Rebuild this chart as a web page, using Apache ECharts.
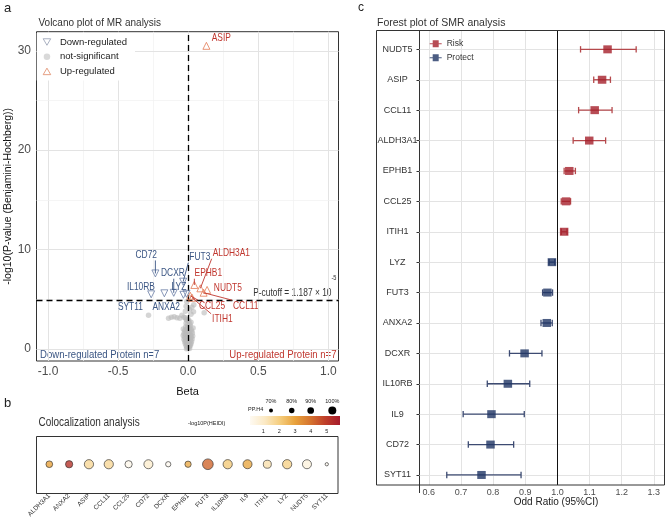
<!DOCTYPE html>
<html><head><meta charset="utf-8">
<script src="https://cdn.jsdelivr.net/npm/echarts@6/dist/echarts.min.js"></script>
<style>html,body{margin:0;padding:0;background:#fff}#c{width:666px;height:520px}</style>
</head><body><div id="c"></div>
<script>
// ---------- Panel a: volcano data ----------
const grayBeta = [-0.283,-0.14,-0.12,-0.1,-0.08,-0.06,-0.045,-0.03,0.026,0.04,-0.01,0.038,0.114,-0.015,0.01,-0.02,0.02,
  -0.01,0.005,-0.015,0.012,-0.005,0.015,-0.018,0.008,-0.008,0.02,-0.022,0.0,0.025,-0.025,0.01,-0.012,0.03,-0.03,0.005,-0.02,0.018,-0.035,0.032,-0.006,0.022,-0.026,0.012,-0.015,0.028,-0.03,0.0,0.016,-0.018,0.024,-0.024,0.006,-0.01,0.02,-0.02,0.012,-0.006,0.016,-0.014,0.008,-0.008,0.004,-0.004,0.01,-0.012,0.0,0.0,0.0,-0.015,0.02,0.003,-0.02,-0.035,0.035];
const grayLogP = [3.4,3.1,3.2,3.25,3.15,3.1,3.4,3.2,4.2,4.45,4.75,3.75,3.65,4.3,4.0,3.8,3.5,
  2.9,2.8,2.6,2.5,2.4,2.3,2.2,2.1,2.0,1.95,1.9,1.85,1.8,1.75,1.7,1.65,1.6,1.55,1.5,1.45,1.4,1.35,1.3,1.25,1.2,1.15,1.1,1.05,1.0,0.95,0.9,0.85,0.8,0.75,0.7,0.65,0.6,0.55,0.5,0.45,0.4,0.35,0.3,0.25,0.2,0.15,0.1,0.05,0.02,0.5,1.3,2.2,3.0,2.7,2.95,3.15,2.0,2.1];
const downGenes = ['SYT11','IL10RB','CD72','DCXR','LYZ','ANXA2','FUT3'];
const downBeta  = [-0.264,-0.17,-0.234,-0.103,-0.012,-0.034,-0.036];
const downLogP  = [5.5,5.6,7.6,5.65,5.55,5.45,6.77];
const upGenes = ['ASIP','ALDH3A1','CCL11','NUDT5','EPHB1','CCL25','ITIH1'];
const upBeta  = [0.13,0.087,0.11,0.135,0.044,0.015,0.028];
const upLogP  = [30.5,6.1,5.66,5.94,6.44,5.35,5.15];
const pCutoff = 1.187e-5;
const volXTicks = [-1,-0.5,0,0.5,1];
const volYTicks = [0,10,20,30];
// label anchor positions (data units)
const labelAt = {SYT11:[-0.412,4.26], IL10RB:[-0.337,6.27], CD72:[-0.299,9.46], DCXR:[-0.109,7.62], LYZ:[-0.066,6.24],
  ANXA2:[-0.157,4.26], FUT3:[0.083,9.23], ALDH3A1:[0.308,9.63], EPHB1:[0.144,7.62], NUDT5:[0.283,6.17],
  CCL11:[0.411,4.36], CCL25:[0.170,4.36], ITIH1:[0.244,2.99], ASIP:[0.236,31.26]};
const noSegment = ['SYT11','NUDT5','ASIP','IL10RB','ANXA2','LYZ'];

// ---------- Panel b: colocalization ----------
const colocGenes = ['ALDH3A1','ANXA2','ASIP','CCL11','CCL25','CD72','DCXR','EPHB1','FUT3','IL10RB','IL9','ITIH1','LYZ','NUDT5','SYT11'];
const colocPP    = [0.755,0.78,0.87,0.87,0.78,0.86,0.69,0.736,0.936,0.87,0.86,0.814,0.87,0.86,0.60];
const colocHeidi = [3.0,5.2,1.7,1.7,0.3,0.9,0.2,2.8,4.2,2.1,2.9,1.4,1.9,0.6,0.2];
const heidiTicks = [1,2,3,4,5];
const ppLegend = [0.7,0.8,0.9,1.0];

// ---------- Panel c: forest ----------
const forestGenes = ['NUDT5','ASIP','CCL11','ALDH3A1','EPHB1','CCL25','ITIH1','LYZ','FUT3','ANXA2','DCXR','IL10RB','IL9','CD72','SYT11'];
const forestOR = [1.156,1.139,1.116,1.099,1.037,1.027,1.021,0.983,0.969,0.967,0.898,0.846,0.795,0.792,0.764];
const forestLo = [1.072,1.113,1.066,1.049,1.021,1.012,1.012,0.974,0.954,0.949,0.851,0.782,0.707,0.723,0.656];
const forestHi = [1.245,1.165,1.170,1.150,1.056,1.041,1.030,0.992,0.985,0.984,0.952,0.914,0.897,0.864,0.887];
const orTicks = [0.6,0.7,0.8,0.9,1.0,1.1,1.2,1.3];

// ---------- styles ----------
const FONT = '"Liberation Sans", Arial, sans-serif';
const downText = '#3a5583', upText = '#c0372f';
const downMark = '#6c7ea6', upMark = '#e47a55';
const riskCol = '#a51f2b', riskLine = '#b5494c', protCol = '#1f3564', protLine = '#3d4b72';
const heidiColors = ['#fefaf2','#fbe9c4','#f5cd7d','#e8a23c','#d6752f','#bf3f2a','#a51b2b'];
const heidiMin = 0.16, heidiMax = 5.84;
const SQX = 0.8; // horizontal squeeze of annotation text in the reference

const measureCtx = document.createElement('canvas').getContext('2d');
function textW(t, font){ measureCtx.font = font; return measureCtx.measureText(t).width; }

const volLabels = [];
downGenes.forEach((g,i)=>volLabels.push([downBeta[i], downLogP[i], labelAt[g][0], labelAt[g][1], g, 0]));
upGenes.forEach((g,i)=>volLabels.push([upBeta[i], upLogP[i], labelAt[g][0], labelAt[g][1], g, 1]));

const nF = forestGenes.length;
const fIdx = forestGenes.map((g,i)=>nF-1-i);
const riskData = [], protData = [], riskBars = [], protBars = [];
forestGenes.forEach((g,i)=>{
  if (forestOR[i] > 1) { riskData.push([forestOR[i], fIdx[i]]); riskBars.push([forestLo[i], forestHi[i], fIdx[i]]); }
  else { protData.push([forestOR[i], fIdx[i]]); protBars.push([forestLo[i], forestHi[i], fIdx[i]]); }
});

function gl(axis, v, major){ const o = {lineStyle:{color: major ? '#e3e3e3' : '#f1f1f1', width: major ? 1 : 0.7, type:'solid'}}; o[axis]=v; return o; }
const volGrid = [];
volXTicks.forEach(v=>volGrid.push(gl('xAxis', v, true)));
[-0.75,-0.25,0.25,0.75].forEach(v=>volGrid.push(gl('xAxis', v, false)));
volYTicks.forEach(v=>volGrid.push(gl('yAxis', v, true)));
[5,15,25].forEach(v=>volGrid.push(gl('yAxis', v, false)));
const forestGrid = [];
orTicks.forEach(v=>forestGrid.push(gl('xAxis', v, true)));
fIdx.forEach(v=>forestGrid.push(gl('yAxis', v, true)));

function errorBars(color){
  return function(params, api){
    const lo = api.value(0), hi = api.value(1), y = api.value(2);
    const a = api.coord([lo, y]), b = api.coord([hi, y]);
    const st = {stroke: color, lineWidth: 1.3};
    return {type:'group', children:[
      {type:'line', shape:{x1:a[0], y1:a[1], x2:b[0], y2:b[1]}, style: st},
      {type:'line', shape:{x1:a[0], y1:a[1]-3.2, x2:a[0], y2:a[1]+3.2}, style: st},
      {type:'line', shape:{x1:b[0], y1:b[1]-3.2, x2:b[0], y2:b[1]+3.2}, style: st}
    ]};
  };
}

const legendIconFP = 'path://M0,3.4 H14 V4.6 H0 Z M3.5,0 H10.5 V8 H3.5 Z';

const graphics = [];
function txt(x, y, text, size, opt, sx){ return {type:'text', x, y, scaleX: sx || 1, style:Object.assign({text, fill:'#222', font: size+'px '+FONT, align:'left', verticalAlign:'middle'}, opt||{})}; }
graphics.push(txt(4, 8, 'a', 13));
graphics.push(txt(38.5, 23, 'Volcano plot of MR analysis', 10.5, {fill:'#333'}, 0.95));
graphics.push(txt(4, 403, 'b', 13));
graphics.push(txt(38.5, 423, 'Colocalization analysis', 12.5, {fill:'#333'}, SQX));
graphics.push(txt(358, 8, 'c', 12));
graphics.push(txt(377, 23, 'Forest plot of SMR analysis', 10.5, {fill:'#333'}));
graphics.push(txt(556, 502, 'Odd Ratio (95%CI)', 10, {align:'center', fill:'#222'}));
const expo = pCutoff.toExponential(3).split('e');
graphics.push(txt(331.5, 293, 'P-cutoff = ' + expo[0] + ' \u00d7 10', 10.5, {align:'right', fill:'#333'}, SQX));
graphics.push(txt(331.5, 277.7, expo[1], 7, {fill:'#333'}, SQX));
graphics.push(txt(40, 354.5, 'Down-regulated Protein n=7', 11, {fill:downText}, 0.87));
graphics.push(txt(336.5, 354.5, 'Up-regulated Protein n=7', 11, {fill:upText, align:'right'}, 0.87));
graphics.push({type:'rect', shape:{x:36.5, y:436.5, width:301.5, height:57}, style:{fill:'none', stroke:'#333', lineWidth:1}, z:10});
graphics.push({type:'rect', shape:{x:376.5, y:30.5, width:288, height:454.5}, style:{fill:'none', stroke:'#333', lineWidth:1}, z:10});
graphics.push({type:'line', shape:{x1:419.5, y1:485, x2:419.5, y2:493}, style:{stroke:'#333', lineWidth:1}});
graphics.push(txt(248, 409, 'PP.H4', 5.5, {fill:'#222'}));
const ppX = [271, 291.7, 310.7, 332.3], ppD = [4, 5.5, 6.7, 8];
ppLegend.forEach((p,i)=>{
  graphics.push({type:'circle', shape:{cx:ppX[i], cy:410.5, r:ppD[i]/2}, style:{fill:'#000'}});
  graphics.push(txt(ppX[i], 401, Math.round(p*100)+'%', 5.5, {align:'center', fill:'#222'}));
});
const barX0 = 250, barX1 = 340;
graphics.push(txt(206.7, 423, '-log10P(HEIDI)', 5.5, {align:'center', fill:'#222'}));
graphics.push({type:'rect', shape:{x:barX0, y:416, width:barX1-barX0, height:9},
  style:{fill:{type:'linear', x:0, y:0, x2:1, y2:0, colorStops: heidiColors.map((c,i)=>({offset:i/(heidiColors.length-1), color:c}))}}});
heidiTicks.forEach(v=>{
  const x = barX0 + (v-heidiMin)/(heidiMax-heidiMin)*(barX1-barX0);
  graphics.push(txt(x, 431.7, String(v), 5.5, {align:'center', fill:'#222'}));
});

const axLabel = {fontFamily: FONT, color:'#4d4d4d'};

const option = {
  animation:false,
  backgroundColor:'#fff',
  grid:[
    {left:36.5, top:31.7, width:302, height:329.3, show:true, borderColor:'#333', borderWidth:1, backgroundColor:'transparent'},
    {left:39.4, top:436.5, width:297.3, height:57},
    {left:419.5, top:30.5, width:245, height:454.5}
  ],
  xAxis:[
    {gridIndex:0, type:'value', min:-1.0823, max:1.0726, splitLine:{show:false}, axisLine:{show:false},
     axisTick:{show:true, length:3.5, lineStyle:{color:'#333'}, customValues: volXTicks},
     axisLabel:Object.assign({fontSize:12, margin:5, customValues: volXTicks, formatter:v=>v.toFixed(1)}, axLabel),
     name:'Beta', nameLocation:'middle', nameGap:25, nameTextStyle:{fontSize:11, fontFamily:FONT, color:'#111'}},
    {gridIndex:1, type:'category', data:colocGenes, boundaryGap:true, axisLine:{show:false}, axisTick:{show:false},
     axisLabel:{rotate:45, fontSize:6.5, margin:3, interval:0, fontFamily:FONT, color:'#333'}},
    {gridIndex:2, type:'value', min:0.5712, max:1.3331, splitLine:{show:false}, axisLine:{show:false},
     axisTick:{show:true, length:3, lineStyle:{color:'#333'}, customValues: orTicks},
     axisLabel:Object.assign({fontSize:9, margin:3, customValues: orTicks, formatter:v=>v.toFixed(1)}, axLabel)}
  ],
  yAxis:[
    {gridIndex:0, type:'value', min:-1.21, max:31.92, splitLine:{show:false}, axisLine:{show:false},
     axisTick:{show:true, length:3.5, lineStyle:{color:'#333'}, customValues: volYTicks},
     axisLabel:Object.assign({fontSize:12, margin:5.5, customValues: volYTicks}, axLabel),
     name:'-log10(P-value (Benjamini-Hochberg))', nameLocation:'middle', nameGap:15, nameTextStyle:{fontSize:10.5, fontFamily:FONT, color:'#111'}},
    {gridIndex:1, type:'value', min:0, max:1, show:false},
    {gridIndex:2, type:'value', min:-0.33, max:14.62, splitLine:{show:false}, axisLine:{show:true, lineStyle:{color:'#333', width:1}},
     axisTick:{show:true, length:3, lineStyle:{color:'#333'}, customValues: fIdx},
     axisLabel:{fontSize:9, margin:22, align:'center', fontFamily:FONT, color:'#333', customValues: fIdx, formatter:v=>forestGenes[nF-1-Math.round(v)]}}
  ],
  visualMap:[{type:'continuous', show:false, seriesIndex:5, dimension:2, min:heidiMin, max:heidiMax, inRange:{color:heidiColors}}],
  legend:[
    {left:36.7, top:33, orient:'vertical', itemWidth:16, itemHeight:6.5, itemGap:4.7, padding:[4,8,4,6], backgroundColor:'#fff',
     textStyle:{fontSize:9.5, fontFamily:FONT, color:'#222'}, selectedMode:false,
     data:[
       {name:'Down-regulated', icon:'path://M0,0 L10,0 L5,8.66 Z', itemStyle:{color:'transparent', borderColor:'#949cb2', borderWidth:1}},
       {name:'not-significant', icon:'circle', itemStyle:{color:'#cfcfcf', borderWidth:0}},
       {name:'Up-regulated', icon:'path://M5,0 L10,8.66 L0,8.66 Z', itemStyle:{color:'transparent', borderColor:'#e08a66', borderWidth:1}}
     ]},
    {left:429.7, top:39.3, orient:'vertical', itemWidth:12, itemHeight:7, itemGap:5, padding:0, selectedMode:false,
     textStyle:{fontSize:8.5, fontFamily:FONT, color:'#333'},
     data:[{name:'Risk', icon:legendIconFP}, {name:'Protect', icon:legendIconFP}]}
  ],
  graphic: graphics,
  series:[
    {name:'not-significant', type:'scatter', xAxisIndex:0, yAxisIndex:0, symbol:'circle', symbolSize:5.5, z:2,
     itemStyle:{color:'rgba(185,185,185,0.75)'}, data: grayBeta.map((b,i)=>[b, grayLogP[i]]),
     markLine:{silent:true, symbol:['none','none'], label:{show:false}, z:1, data: volGrid}},
    {name:'Down-regulated', type:'scatter', xAxisIndex:0, yAxisIndex:0, symbol:'triangle', symbolRotate:180, symbolSize:7, z:3,
     itemStyle:{color:'rgba(0,0,0,0)', borderColor:downMark, borderWidth:1}, data: downBeta.map((b,i)=>[b, downLogP[i]])},
    {name:'Up-regulated', type:'scatter', xAxisIndex:0, yAxisIndex:0, symbol:'triangle', symbolSize:7, z:3,
     itemStyle:{color:'rgba(0,0,0,0)', borderColor:upMark, borderWidth:1}, data: upBeta.map((b,i)=>[b, upLogP[i]]),
     markLine:{silent:true, symbol:['none','none'], label:{show:false}, z:3,
       lineStyle:{color:'#000', type:[6,4], width:1.3},
       data:[{xAxis:0}, {yAxis:-Math.log10(pCutoff)}]}},
    {type:'custom', xAxisIndex:0, yAxisIndex:0, z:4, silent:true,
     data: volLabels.map(d=>[d[0], d[1]]),
     renderItem:function(params, api){
       const d = volLabels[params.dataIndex];
       const p = api.coord([d[0], d[1]]);
       const l = api.coord([d[2], d[3]]);
       const font = '10.5px ' + FONT;
       const w = textW(d[4], font)*SQX/2 + 1, h = 5.5;
       const cx = Math.max(l[0]-w, Math.min(l[0]+w, p[0]));
       const cy = Math.max(l[1]-h, Math.min(l[1]+h, p[1]));
       const color = d[5] ? upText : downText;
       const children = [];
       if (Math.hypot(cx-p[0], cy-p[1]) > 5 && noSegment.indexOf(d[4]) < 0)
         children.push({type:'line', shape:{x1:p[0], y1:p[1], x2:cx, y2:cy}, style:{stroke:color, lineWidth:0.9}});
       children.push({type:'text', x:l[0], y:l[1], scaleX:SQX, style:{text:d[4], fill:color, font:font, align:'center', verticalAlign:'middle'}});
       return {type:'group', children:children};
     }},
    {type:'scatter', xAxisIndex:0, yAxisIndex:0, data:[], silent:true},
    {name:'coloc', type:'scatter', xAxisIndex:1, yAxisIndex:1, z:3,
     data: colocGenes.map((g,i)=>[i, 0.5, colocHeidi[i], colocPP[i]]),
     symbolSize: v => 3.3 + (v[3]-0.6)*22,
     itemStyle:{borderColor:'#2b2b2b', borderWidth:0.8}},
    {type:'custom', xAxisIndex:2, yAxisIndex:2, z:3, silent:true, data: riskBars, renderItem: errorBars(riskLine),
     markLine:{silent:true, symbol:['none','none'], label:{show:false}, z:1, data: forestGrid}},
    {type:'custom', xAxisIndex:2, yAxisIndex:2, z:3, silent:true, data: protBars, renderItem: errorBars(protLine),
     markLine:{silent:true, symbol:['none','none'], label:{show:false}, z:2, lineStyle:{color:'#111', width:1, type:'solid'}, data:[{xAxis:1.0}]}},
    {name:'Risk', type:'scatter', xAxisIndex:2, yAxisIndex:2, z:4, symbol:'rect', symbolSize:[8.5,8], itemStyle:{color:riskCol}, data: riskData},
    {name:'Protect', type:'scatter', xAxisIndex:2, yAxisIndex:2, z:4, symbol:'rect', symbolSize:[8.5,8], itemStyle:{color:protCol}, data: protData}
  ]
};
const chart = echarts.init(document.getElementById('c'), null, {renderer:'canvas'});
chart.setOption(option);
</script>
</body></html>
